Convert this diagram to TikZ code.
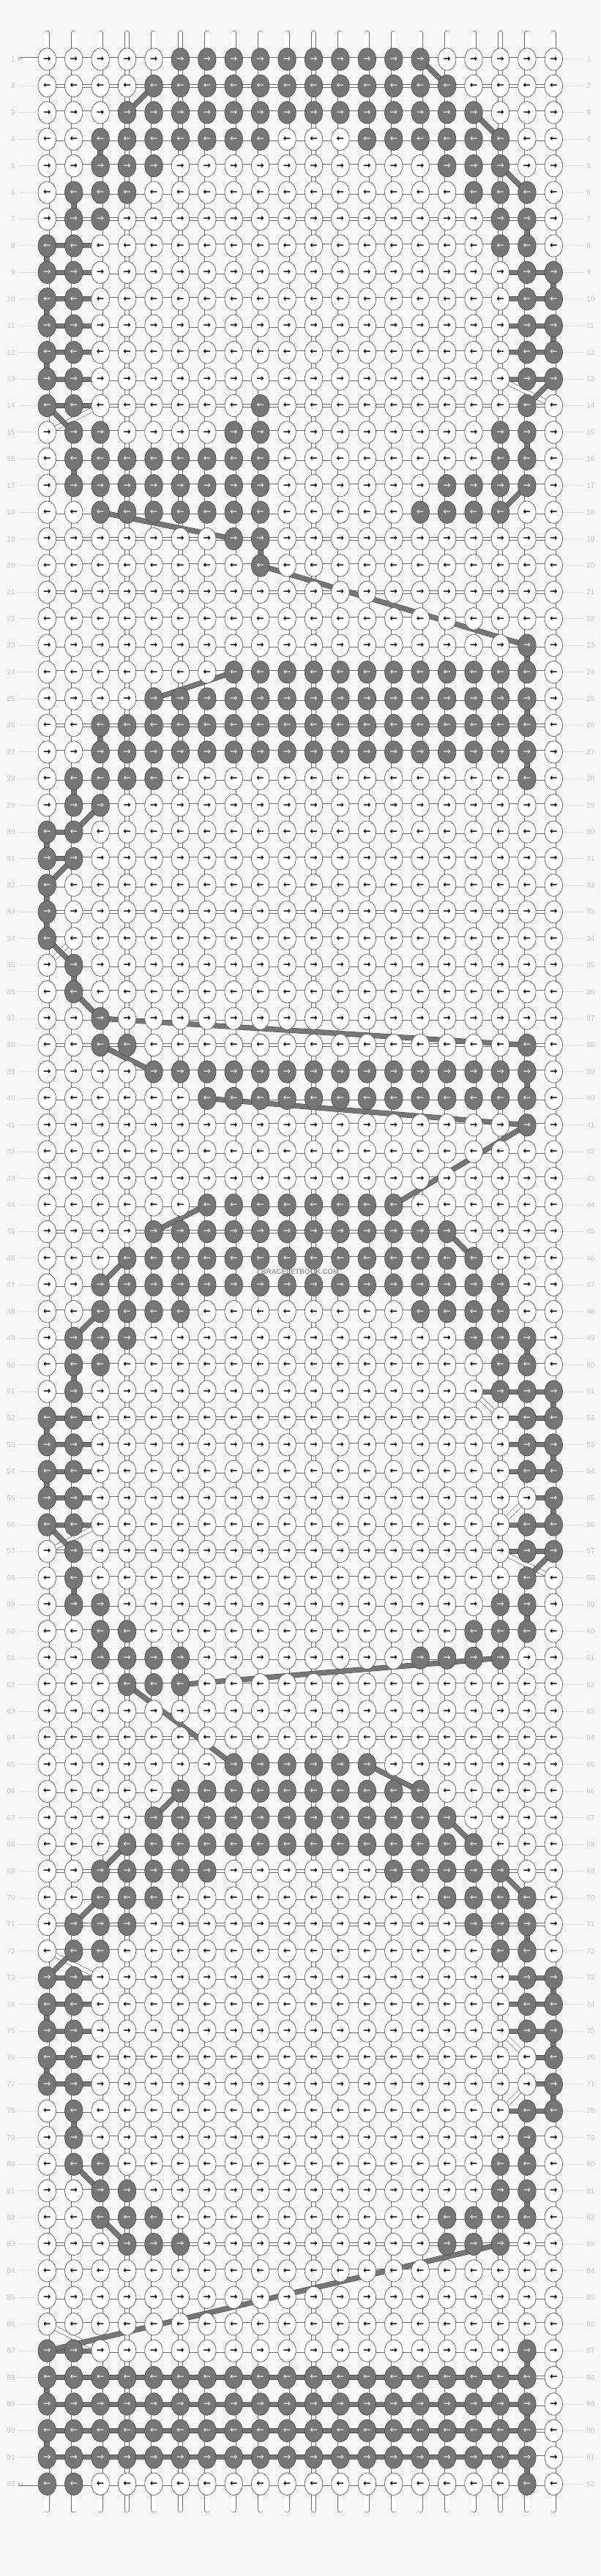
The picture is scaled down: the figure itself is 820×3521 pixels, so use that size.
\documentclass[tikz,border=0pt]{standalone}
\usepackage{fontspec}
\setmainfont{Liberation Sans}
\newfontfamily\arrowfont{DejaVu Sans}
\usetikzlibrary{shapes.geometric}
\definecolor{bgc}{HTML}{F6F6F6}
\definecolor{knotfill}{HTML}{767676}
\definecolor{gedge}{HTML}{4C4C4C}
\definecolor{knotedge}{HTML}{5C5C5C}
\definecolor{segedge}{HTML}{6A6A6A}
\definecolor{garrow}{HTML}{DCDCDC}
\definecolor{labc}{HTML}{C8C8C8}
\definecolor{leaderc}{HTML}{E0E0E0}
\definecolor{wmc}{HTML}{9C9C9C}

\ExplSyntaxOn
\int_new:N \g_bb_r_int
\int_new:N \g_bb_c_int
\int_new:N \g_bb_gmin_int
\int_new:N \g_bb_gmax_int
\int_new:N \g_bb_wmin_int
\int_new:N \g_bb_wmax_int
\int_new:N \l_bb_gmin_int
\int_new:N \l_bb_gmax_int
\int_new:N \l_bb_wmin_int
\int_new:N \l_bb_wmax_int
\int_new:N \l_bb_first_int
\int_new:N \l_bb_last_int
\int_new:N \g_bb_pgr_int
\int_new:N \g_bb_pgc_int
\int_new:N \g_bb_pwr_int
\int_new:N \g_bb_pwc_int
\intarray_new:Nn \g_bb_gmin_intarray {92}
\intarray_new:Nn \g_bb_gmax_intarray {92}
\intarray_new:Nn \g_bb_wmin_intarray {92}
\intarray_new:Nn \g_bb_wmax_intarray {92}
\clist_new:N \g_bb_knots_clist
\clist_new:N \g_bb_gvert_clist
\clist_new:N \g_bb_gbars_clist
\clist_new:N \g_bb_wbars_clist
\clist_new:N \g_bb_ghseg_clist
\clist_const:Nn \c_bb_rows_clist
 {
 .....GGGGGGGGGG.....,
 ....GGGGGGGGGGGG....,
 ...GGGGGGGGGGGGGG...,
 ..GGGGGGG...GGGGGG..,
 ..GGG..........GGG..,
 .GGG............GGG.,
 .GG..............GG.,
 GG...............GG.,
 GG................GG,
 GG................GG,
 GG................GG,
 GG................GG,
 GG................GG,
 GG......G.........G.,
 .GG....GG........GG.,
 .GGGGGGGG........GG.,
 .GGGGGGGG......GGGG.,
 ..GGGGGGG.....GGGG..,
 .......GG...........,
 ........G...........,
 ....................,
 ....................,
 ..................G.,
 .......GGGGGGGGGGGG.,
 ....GGGGGGGGGGGGGGG.,
 ..GGGGGGGGGGGGGGGGG.,
 ..GGGGGGGGGGGGGGGGG.,
 .GGGG.............G.,
 .GG.................,
 GG..................,
 GG..................,
 G...................,
 G...................,
 G...................,
 .G..................,
 .G..................,
 ..G.................,
 ..GG..............G.,
 ....GGGGGGGGGGGGGGG.,
 ......GGGGGGGGGGGGG.,
 ..................G.,
 ....................,
 ....................,
 ......GGGGGGGG......,
 ....GGGGGGGGGGGG....,
 ...GGGGGGGGGGGGGG...,
 ..GGGGGGGGGGGGGGGG..,
 ..GGGG........GGGG..,
 .GGG............GGG.,
 .GG..............GG.,
 .G...............GGG,
 GG................GG,
 GG................GG,
 GG................GG,
 GG.................G,
 GG................GG,
 .G................GG,
 .G................G.,
 .GG..............GG.,
 ..GG............GGG.,
 ..GGGG........GGGG..,
 ...GGG..............,
 ....................,
 ....................,
 .......GGGGGG.......,
 .....GGGGGGGGGG.....,
 ....GGGGGGGGGGGG....,
 ...GGGGGGGGGGGGGG...,
 ..GGGGG......GGGGG..,
 ..GGG..........GGGG.,
 .GGG............GGG.,
 .GG..............GG.,
 GG................GG,
 GG................GG,
 GG................GG,
 GG.................G,
 GG.................G,
 .G................GG,
 .G................G.,
 .GG..............GG.,
 ..GG.............GG.,
 ..GGG..........GGGG.,
 ...GGG.........GGG..,
 ....................,
 ....................,
 ....................,
 GG................G.,
 GGGGGGGGGGGGGGGGGGG.,
 GGGGGGGGGGGGGGGGGGG.,
 GGGGGGGGGGGGGGGGGGG.,
 GGGGGGGGGGGGGGGGGGG.,
 GG................G.
 }
\clist_map_inline:Nn \c_bb_rows_clist
 {
  \int_gincr:N \g_bb_r_int
  \int_gset:Nn \g_bb_gmin_int {99}
  \int_gset:Nn \g_bb_gmax_int {-1}
  \int_gset:Nn \g_bb_wmin_int {99}
  \int_gset:Nn \g_bb_wmax_int {-1}
  \int_gzero:N \g_bb_c_int
  \tl_map_inline:nn {#1}
   {
    \str_if_eq:nnTF {##1} {G}
     {
      \int_compare:nNnT {\g_bb_gmin_int} = {99} { \int_gset_eq:NN \g_bb_gmin_int \g_bb_c_int }
      \int_gset_eq:NN \g_bb_gmax_int \g_bb_c_int
      \clist_gput_right:Nx \g_bb_knots_clist { \int_use:N \g_bb_r_int / \int_use:N \g_bb_c_int / g }
     }
     {
      \int_compare:nNnT {\g_bb_wmin_int} = {99} { \int_gset_eq:NN \g_bb_wmin_int \g_bb_c_int }
      \int_gset_eq:NN \g_bb_wmax_int \g_bb_c_int
      \clist_gput_right:Nx \g_bb_knots_clist { \int_use:N \g_bb_r_int / \int_use:N \g_bb_c_int / w }
     }
    \int_gincr:N \g_bb_c_int
   }
  \intarray_gset:Nnn \g_bb_gmin_intarray {\g_bb_r_int} {\g_bb_gmin_int}
  \intarray_gset:Nnn \g_bb_gmax_intarray {\g_bb_r_int} {\g_bb_gmax_int}
  \intarray_gset:Nnn \g_bb_wmin_intarray {\g_bb_r_int} {\g_bb_wmin_int}
  \intarray_gset:Nnn \g_bb_wmax_intarray {\g_bb_r_int} {\g_bb_wmax_int}
 }
\int_step_inline:nnn {1} {92}
 {
  \int_set:Nn \l_bb_gmin_int { \intarray_item:Nn \g_bb_gmin_intarray {#1} }
  \int_set:Nn \l_bb_gmax_int { \intarray_item:Nn \g_bb_gmax_intarray {#1} }
  \int_set:Nn \l_bb_wmin_int { \intarray_item:Nn \g_bb_wmin_intarray {#1} }
  \int_set:Nn \l_bb_wmax_int { \intarray_item:Nn \g_bb_wmax_intarray {#1} }
  \int_compare:nNnT { \l_bb_gmax_int } > { -1 }
   {
    \int_if_odd:nTF {#1}
     { \int_set_eq:NN \l_bb_first_int \l_bb_gmin_int \int_set_eq:NN \l_bb_last_int \l_bb_gmax_int }
     { \int_set_eq:NN \l_bb_first_int \l_bb_gmax_int \int_set_eq:NN \l_bb_last_int \l_bb_gmin_int }
    \int_compare:nNnT { \g_bb_pgr_int } > { 0 }
     {
      \bool_lazy_and:nnTF
       { \int_compare_p:nNn { \g_bb_pgr_int + 1 } = {#1} }
       { \int_compare_p:nNn { \g_bb_pgc_int } = { \l_bb_first_int } }
       { \clist_gput_right:Nx \g_bb_gvert_clist { \int_use:N \g_bb_pgr_int / \int_use:N \g_bb_pgc_int } }
       { \clist_gput_right:Nx \g_bb_gbars_clist { \int_use:N \g_bb_pgr_int / \int_use:N \g_bb_pgc_int / #1 / \int_use:N \l_bb_first_int } }
     }
    \int_gset:Nn \g_bb_pgr_int {#1}
    \int_gset_eq:NN \g_bb_pgc_int \l_bb_last_int
   }
  \int_compare:nNnT { \l_bb_wmax_int } > { -1 }
   {
    \int_if_odd:nTF {#1}
     { \int_set_eq:NN \l_bb_first_int \l_bb_wmin_int \int_set_eq:NN \l_bb_last_int \l_bb_wmax_int }
     { \int_set_eq:NN \l_bb_first_int \l_bb_wmax_int \int_set_eq:NN \l_bb_last_int \l_bb_wmin_int }
    \int_compare:nNnT { \g_bb_pwr_int } > { 0 }
     {
      \bool_lazy_and:nnF
       { \int_compare_p:nNn { \g_bb_pwr_int + 1 } = {#1} }
       { \int_compare_p:nNn { \g_bb_pwc_int } = { \l_bb_first_int } }
       { \clist_gput_right:Nx \g_bb_wbars_clist { \int_use:N \g_bb_pwr_int / \int_use:N \g_bb_pwc_int / #1 / \int_use:N \l_bb_first_int } }
     }
    \int_gset:Nn \g_bb_pwr_int {#1}
    \int_gset_eq:NN \g_bb_pwc_int \l_bb_last_int
   }
  \int_compare:nNnT {#1} < {92}
   {
    \int_step_inline:nnn {0} {18}
     {
      \bool_if:nT
       {
        ! ( \int_compare_p:nNn { \l_bb_wmin_int } < { ##1 + 1 } && \int_compare_p:nNn { \l_bb_wmax_int } > { ##1 } )
        && \int_compare_p:nNn { \l_bb_gmin_int } < { ##1 + 1 }
        && \int_compare_p:nNn { \l_bb_gmax_int } > { ##1 }
       }
       { \clist_gput_right:Nx \g_bb_ghseg_clist { #1 / ##1 } }
     }
   }
 }
\cs_gset_eq:NN \bbKnots \g_bb_knots_clist
\cs_gset_eq:NN \bbGVert \g_bb_gvert_clist
\cs_gset_eq:NN \bbGBars \g_bb_gbars_clist
\cs_gset_eq:NN \bbWBars \g_bb_wbars_clist
\cs_gset_eq:NN \bbGHseg \g_bb_ghseg_clist
\ExplSyntaxOff

\pgfdeclarelayer{segs}
\pgfdeclarelayer{bars}
\pgfsetlayers{segs,bars,main}

\begin{document}
\begin{tikzpicture}[x=0.5pt,y=-0.5pt,
  knotw/.style={ellipse,draw=knotedge,fill=white,line width=0.35pt,minimum width=12.2pt,minimum height=15.3pt,inner sep=0pt,text=black,font=\arrowfont\bfseries\fontsize{6.2}{6.2}\selectfont},
  knotg/.style={knotw,fill=knotfill,draw=gedge,text=garrow},
  hseg/.style={draw=segedge,line width=0.3pt,double=white,double distance=1.9pt},
  vseg/.style={draw=segedge,line width=0.3pt,double=white,double distance=2.9pt},
  hsegg/.style={draw=gedge,line width=0.3pt,double=knotfill,double distance=2.9pt},
  vsegg/.style={draw=gedge,line width=0.3pt,double=knotfill,double distance=3.4pt},
  gbar/.style={draw=gedge,line width=0.3pt,double=knotfill,double distance=3.0pt},
  wbar/.style={draw=segedge,line width=0.3pt,double=white,double distance=2.6pt},
  lab/.style={text=labc,font=\fontsize{5}{5}\selectfont,inner xsep=2pt,inner ysep=0pt},
  leader/.style={draw=leaderc,line width=0.5pt},
  roundend/.style={line cap=round},
  atext/.style={text=labc!80!black,font=\fontsize{2.8}{2.8}\selectfont,inner sep=0pt}
]
\useasboundingbox (0,0) rectangle (820,3521);
\foreach \r/\c/\s in \bbKnots {
  \ifodd\r\relax\def\karr{→}\else\def\karr{←}\fi
  \node[knot\s] (k-\r-\c) at ({64.3+36.42*\c},{81+36.42*(\r-1)}) {\karr};
}
\foreach \r in {1,...,92} {
  \node[lab,anchor=east] (ll-\r) at (25,{81+36.42*(\r-1)}) {\r};
  \node[lab,anchor=west] (rl-\r) at (797,{81+36.42*(\r-1)}) {\r};
}
\coordinate (a-top) at (27.5,81);
\coordinate (a-bot) at (27.5,{81+36.42*91});
\node[atext] (atop-lab) at (30,81) {A};
\node[atext] (abot-lab) at (30,{81+36.42*91}) {A};
\node[text=wmc,font=\bfseries\fontsize{4.8}{4.8}\selectfont,inner sep=0pt] (wm) at (410,1738) {BRACELETBOOK.COM};

\begin{pgfonlayer}{segs}
\fill[bgc] (0,0) rectangle (820,3521);
\foreach \r in {2,...,91} { \draw[leader] (ll-\r.east) -- (k-\r-0.center); }
\foreach \r in {1,...,92} { \draw[leader] (k-\r-19.center) -- (rl-\r.west); }
% weft runs: one line per row, under the knots
\draw[hseg,roundend] (a-top) -- (k-1-19.center);
\draw[hseg,roundend] (a-bot) -- (k-92-19.center);
\foreach \r in {2,...,91} { \draw[hseg] (k-\r-0.center) -- (k-\r-19.center); }
% warp strings: one line per column, from its top end to its bottom end
\foreach \c in {0,...,19} {
  \coordinate (t-\c) at ({64.3+36.42*\c},45.3);
  \coordinate (b-\c) at ({64.3+36.42*\c},3430.8);
  \draw[vseg,roundend] (t-\c) -- (b-\c);
}
\foreach \r/\c in \bbGHseg {
  \pgfmathtruncatemacro\cn{\c+1}
  \draw[hsegg] (k-\r-\c.center) -- (k-\r-\cn.center);
}
\foreach \r/\c in \bbGVert {
  \pgfmathtruncatemacro\rn{\r+1}
  \draw[vsegg] (k-\r-\c.center) -- (k-\rn-\c.center);
}
\end{pgfonlayer}
\begin{pgfonlayer}{bars}
\foreach \ra/\ca/\rb/\cb in \bbWBars { \draw[wbar] (k-\ra-\ca.center) -- (k-\rb-\cb.center); }
\foreach \ra/\ca/\rb/\cb in \bbGBars { \draw[gbar] (k-\ra-\ca.center) -- (k-\rb-\cb.center); }
\end{pgfonlayer}
\end{tikzpicture}
\end{document}
